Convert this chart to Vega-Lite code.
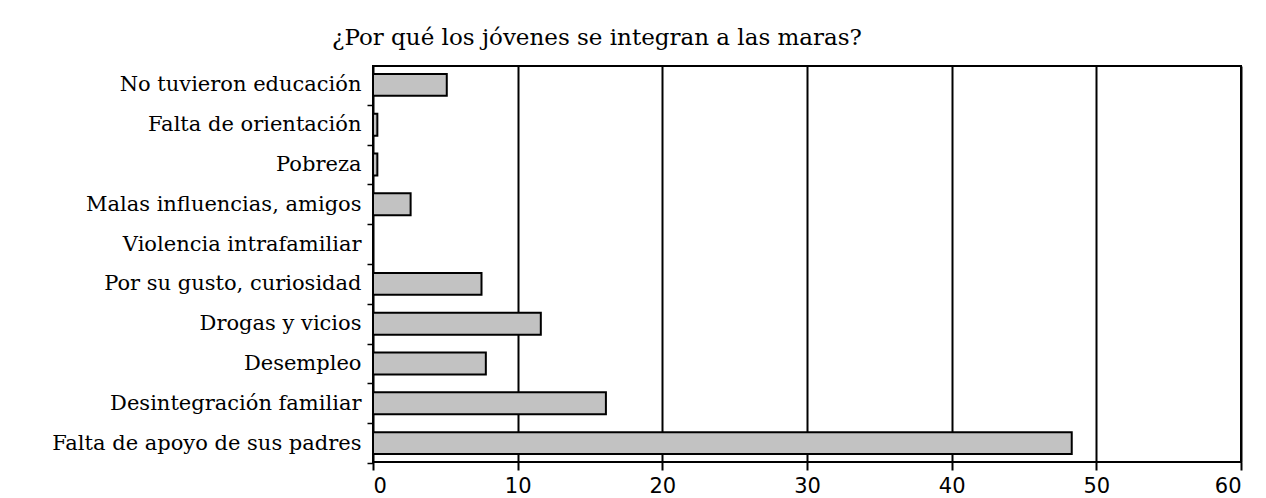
{
  "$schema": "https://vega.github.io/schema/vega-lite/v6.json",
  "autosize": {"type": "none"},
  "padding": {"left": 373, "top": 66, "right": 25, "bottom": 36},
  "width": 868,
  "height": 396,
  "background": "white",
  "title": {
    "text": "¿Por qué los jóvenes se integran a las maras?",
    "anchor": "middle",
    "frame": "group",
    "dx": -210,
    "offset": 16,
    "font": "DejaVu Serif",
    "fontSize": 23,
    "fontWeight": "normal",
    "color": "black"
  },
  "config": {
    "view": {"stroke": "black", "strokeWidth": 2},
    "axis": {"domain": false}
  },
  "data": {
    "values": [
      {"motivo": "No tuvieron educación", "valor": 5.1},
      {"motivo": "Falta de orientación", "valor": 0.3},
      {"motivo": "Pobreza", "valor": 0.3},
      {"motivo": "Malas influencias, amigos", "valor": 2.6},
      {"motivo": "Violencia intrafamiliar", "valor": 0},
      {"motivo": "Por su gusto, curiosidad", "valor": 7.5},
      {"motivo": "Drogas y vicios", "valor": 11.6},
      {"motivo": "Desempleo", "valor": 7.8},
      {"motivo": "Desintegración familiar", "valor": 16.1},
      {"motivo": "Falta de apoyo de sus padres", "valor": 48.3}
    ]
  },
  "mark": {"type": "bar", "fill": "#c2c2c2", "stroke": "black", "strokeWidth": 2},
  "encoding": {
    "y": {
      "field": "motivo",
      "type": "nominal",
      "sort": null,
      "scale": {"paddingInner": 0.45, "paddingOuter": 0.2},
      "axis": {
        "title": null,
        "labelFont": "DejaVu Serif",
        "labelFontSize": 21,
        "labelColor": "black",
        "tickColor": "black",
        "tickSize": 6,
        "tickWidth": 1.5,
        "tickOffset": 19.9,
        "labelOffset": -19.9,
        "labelPadding": 6,
        "labelLimit": 400,
        "grid": false
      }
    },
    "x": {
      "field": "valor",
      "type": "quantitative",
      "scale": {"domain": [0, 60], "nice": false},
      "axis": {
        "title": null,
        "values": [0, 10, 20, 30, 40, 50, 60],
        "labelFont": "DejaVu Sans",
        "labelFontSize": 21,
        "labelColor": "black",
        "tickColor": "black",
        "tickSize": 8,
        "tickWidth": 2,
        "labelPadding": 5,
        "grid": true,
        "gridColor": "black",
        "gridWidth": 2,
        "gridOpacity": 1
      }
    }
  }
}
